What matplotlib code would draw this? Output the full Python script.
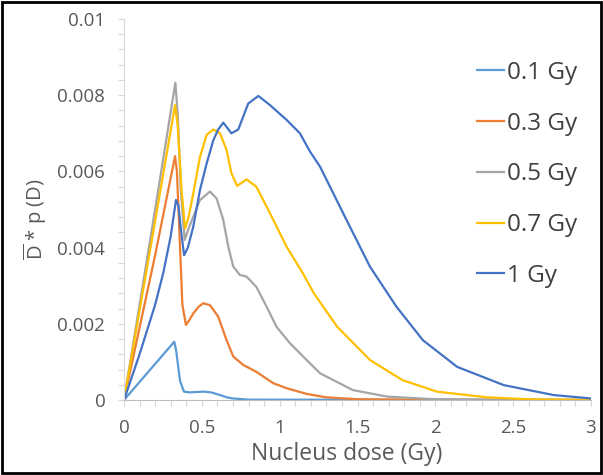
import numpy as np
import matplotlib.pyplot as plt
from matplotlib.patches import Rectangle
from matplotlib.ticker import MultipleLocator

plt.rcParams['font.family'] = ['Open Sans', 'DejaVu Sans']
plt.rcParams['mathtext.fontset'] = 'custom'
plt.rcParams['mathtext.rm'] = 'Open Sans'

# === data (dose in Gy, D*p(D)) ===
labels = ["0.1 Gy", "0.3 Gy", "0.5 Gy", "0.7 Gy", "1 Gy"]
colors = ["#5B9BD5", "#ED7D31", "#A5A5A5", "#FFC000", "#4472C4"]

d_01 = [0, 0.323, 0.335, 0.36, 0.385, 0.42, 0.47, 0.51, 0.56, 0.617, 0.66, 0.70, 0.8, 3.0]
v_01 = [0, 0.00153, 0.0013, 0.0005, 0.00022, 0.0002, 0.00021, 0.00022, 0.0002, 0.00013, 0.00007, 0.00004, 0.00001, 0]

d_03 = [0, 0.2, 0.328, 0.34, 0.355, 0.375, 0.398, 0.42, 0.445, 0.48, 0.509, 0.552, 0.605, 0.659,
        0.702, 0.766, 0.85, 0.959, 1.045, 1.173, 1.3, 1.5, 2.0, 3.0]
v_03 = [0, 0.0038, 0.0064, 0.006, 0.0045, 0.0025, 0.00197, 0.0021, 0.00227, 0.00245, 0.00254, 0.00249,
        0.00219, 0.00157, 0.00114, 0.00092, 0.00074, 0.00044, 0.00031, 0.00016, 0.00007, 0.00002, 0, 0]

d_05 = [0, 0.2, 0.33, 0.345, 0.365, 0.39, 0.415, 0.445, 0.488, 0.552, 0.595, 0.638, 0.67, 0.702, 0.745,
        0.787, 0.85, 0.916, 0.98, 1.066, 1.173, 1.26, 1.47, 1.69, 2.0, 3.0]
v_05 = [0, 0.005, 0.00833, 0.0075, 0.0055, 0.0042, 0.0045, 0.00481, 0.00525, 0.00547, 0.00529, 0.00472,
        0.00402, 0.0035, 0.00328, 0.00324, 0.00297, 0.00245, 0.00192, 0.00149, 0.00105, 0.0007, 0.00026,
        0.00009, 0.00002, 0]

d_07 = [0, 0.2, 0.328, 0.345, 0.37, 0.392, 0.415, 0.445, 0.488, 0.531, 0.574, 0.617, 0.659, 0.69, 0.727,
        0.787, 0.85, 0.938, 1.045, 1.15, 1.22, 1.37, 1.58, 1.79, 2.01, 2.33, 2.6, 3.0]
v_07 = [0, 0.0047, 0.00774, 0.0072, 0.0055, 0.0045, 0.0048, 0.00542, 0.00638, 0.00696, 0.0071, 0.007,
        0.00656, 0.00595, 0.00562, 0.00579, 0.0056, 0.0049, 0.00402, 0.00332, 0.0028, 0.00192, 0.00105,
        0.00052, 0.00022, 0.00007, 0.00002, 0]

d_1 = [0, 0.1, 0.2, 0.252, 0.3, 0.334, 0.35, 0.365, 0.386, 0.41, 0.445, 0.488, 0.531, 0.574, 0.605, 0.638,
       0.69, 0.734, 0.798, 0.863, 0.938, 1.045, 1.13, 1.195, 1.26, 1.43, 1.58, 1.75, 1.92, 2.14, 2.44,
       2.76, 3.0]
v_1 = [0, 0.0012, 0.0025, 0.00333, 0.0043, 0.00525, 0.0051, 0.0045, 0.0038, 0.004, 0.00455, 0.00551,
       0.00621, 0.00682, 0.0071, 0.00728, 0.007, 0.0071, 0.00778, 0.00798, 0.00774, 0.00735, 0.007,
       0.00652, 0.00612, 0.00472, 0.0035, 0.00245, 0.00157, 0.00087, 0.00039, 0.00013, 0.00004]

series = [(d_01, v_01), (d_03, v_03), (d_05, v_05), (d_07, v_07), (d_1, v_1)]

fig = plt.figure(figsize=(6.03, 4.75), dpi=100)
ax = fig.add_axes([124 / 603, 75 / 475, 467 / 603, 381 / 475])

for (d, v), lab, col in zip(series, labels, colors):
    ax.plot(d, v, color=col, lw=1.6, label=lab, solid_joinstyle="round")

ax.set_xlim(0, 3)
ax.set_ylim(0, 0.01)
ax.xaxis.set_minor_locator(MultipleLocator(0.1))
ax.yaxis.set_minor_locator(MultipleLocator(0.0004))
ax.set_xticks([0, 0.5, 1, 1.5, 2, 2.5, 3], ["0", "0.5", "1", "1.5", "2", "2.5", "3"])
ax.set_yticks([0, 0.002, 0.004, 0.006, 0.008, 0.01], ["0", "0.002", "0.004", "0.006", "0.008", "0.01"])

for s in ["top", "right"]:
    ax.spines[s].set_visible(False)
ax.spines["left"].set_color("#D9D9D9")
ax.spines["bottom"].set_color("#BFBFBF")
ax.tick_params(which="both", direction="out", length=4, width=0.8, color="#D9D9D9",
               labelcolor="#595959", labelsize=13.5)
ax.tick_params(axis="y", pad=9.5)
ax.tick_params(axis="x", pad=10)

ax.set_xlabel("Nucleus dose (Gy)", fontsize=16.5, color="#595959")
ax.xaxis.set_label_coords((347 - 124) / 467, (400 - 454) / 381)
ax.xaxis.label.set_va("center")
ax.set_ylabel(r"$\overline{\mathrm{D}}$ * p (D)", fontsize=14.5, color="#595959")
ax.yaxis.set_label_coords((35 - 124) / 467, (400 - 219) / 381)
ax.yaxis.label.set_va("center")

leg = ax.legend(loc="upper left", bbox_to_anchor=(477 / 603, 1 - 61 / 475),
                bbox_transform=fig.transFigure, frameon=False, fontsize=17.5,
                handlelength=1.11, handletextpad=0.12, labelspacing=1.1,
                borderpad=0, borderaxespad=0)
for t in leg.get_texts():
    t.set_color("#404040")
for h in leg.get_lines():
    h.set_linewidth(1.6)

# black frame around the picture
fig.patches.append(Rectangle((0.004, 0.005), 0.992, 0.99, transform=fig.transFigure,
                             fill=False, edgecolor="black", lw=2))

fig.savefig("out.png", dpi=100)
